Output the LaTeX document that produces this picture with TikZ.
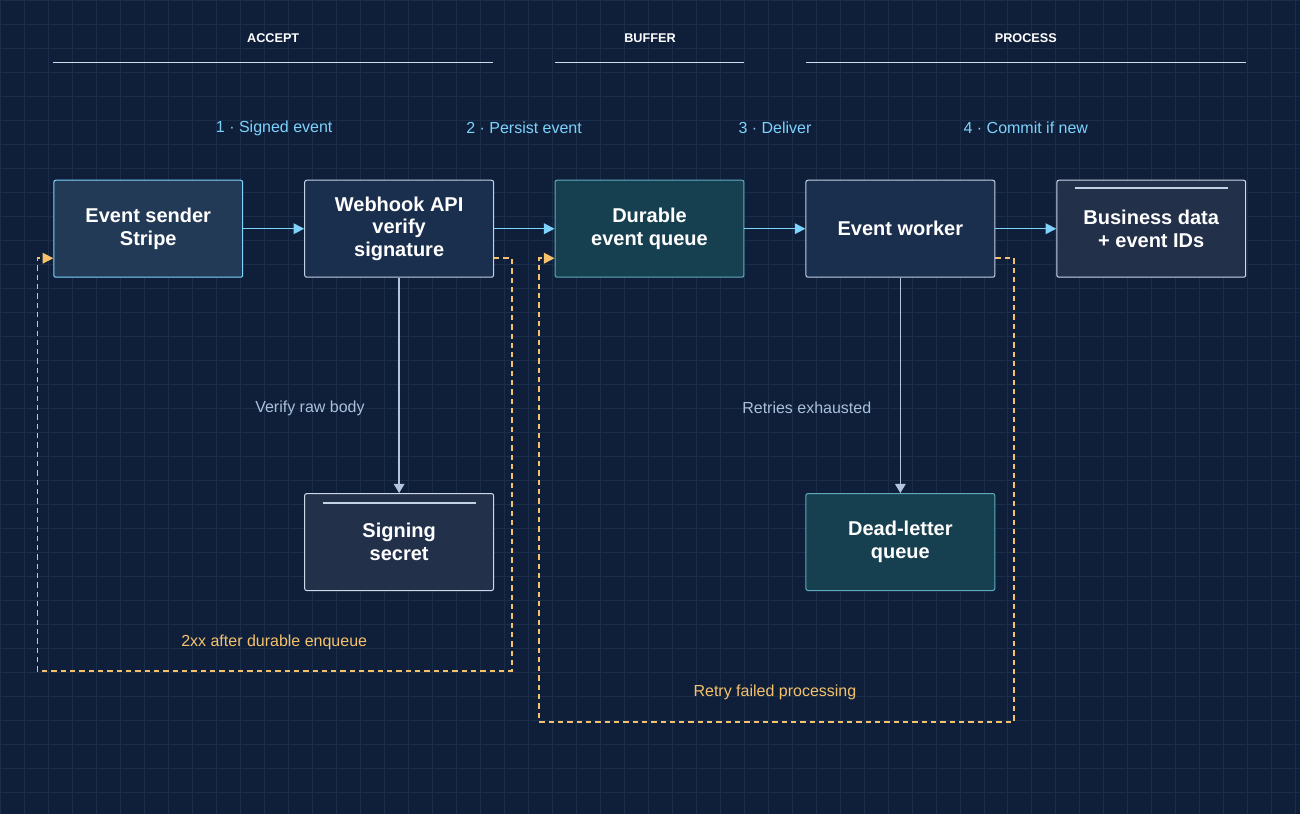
\documentclass[tikz,border=0pt]{standalone}
\usepackage{fontspec}
\setmainfont{Liberation Sans}
\usetikzlibrary{arrows.meta}
\definecolor{bgc}{HTML}{0F1F3A}
\definecolor{gridc}{HTML}{1A2E4C}
\definecolor{flowc}{HTML}{7DD3FC}
\definecolor{loopc}{HTML}{F5C26B}
\definecolor{subc}{HTML}{A9BFDA}
\definecolor{tealline}{RGB}{95,170,190}
\definecolor{tealfill}{RGB}{22,64,80}
\definecolor{srcfill}{RGB}{35,58,86}
\definecolor{svcfill}{RGB}{26,46,78}
\definecolor{storefill}{RGB}{35,48,74}
\tikzset{every picture/.style={line width=0.75pt}}
\tikzset{
  box/.style={draw=#1, rounded corners=1.5pt, minimum width=141.75pt, minimum height=72.75pt, align=center, text=white, font=\bfseries\fontsize{15}{17}\selectfont},
  flow/.style={draw=flowc, line width=1.1pt, -{Triangle[length=8pt,width=8pt]}},
  down/.style={draw=subc!90, line width=1.1pt, -{Triangle[length=7pt,width=8pt]}},
  loop/.style={draw=loopc, line width=1.1pt, dash pattern={on 4pt off 3pt}, -{Triangle[length=8pt,width=8pt]}},
  phase/.style={text=white, font=\bfseries\fontsize{9.5}{11}\selectfont},
  steplbl/.style={text=flowc, font=\fontsize{12}{14}\selectfont},
  note/.style={font=\fontsize{12}{14}\selectfont}
}
\begin{document}
\begin{tikzpicture}[x=0.75pt,y=0.75pt,yscale=-1,xscale=1]
% background and grid
\fill [bgc] (0,0) rectangle (1300,814);
\draw [gridc, line width=0.5pt, step=24] (0,0) grid (1300,814);
\useasboundingbox (0,0) rectangle (1300,814);

% phases
\node [phase] (accept) at (273,38) {ACCEPT};
\node [phase] (buffer) at (650,38) {BUFFER};
\node [phase] (process) at (1026,38) {PROCESS};
\draw [subc!55, line width=1pt] (53,62) -- (493,62);
\draw [subc!55, line width=1pt] (555,62) -- (744,62);
\draw [subc!55, line width=1pt] (806,62) -- (1246,62);

% steps
\node [steplbl] (s1) at (274,128) {1 · Signed event};
\node [steplbl] (s2) at (524,128) {2 · Persist event};
\node [steplbl] (s3) at (775,128) {3 · Deliver};
\node [steplbl] (s4) at (1026,128) {4 · Commit if new};

% boxes
\node [box=flowc, fill=srcfill] (sender) at (148,228.5) {Event sender\\Stripe};
\node [box=subc!70, fill=svcfill] (api) at (399,228.5) {Webhook API\\verify\\signature};
\node [box=tealline, fill=tealfill] (queue) at (649.5,228.5) {Durable\\event queue};
\node [box=subc!70, fill=svcfill] (worker) at (900.5,228.5) {Event worker};
\node [box=subc!60, fill=storefill] (store) at (1151.5,228.5) {Business data\\+ event IDs};
\node [box=subc!60, fill=storefill] (secret) at (399,542) {Signing\\secret};
\node [box=tealline, fill=tealfill] (dlq) at (900.5,542) {Dead-letter\\queue};
\draw [subc!70, line width=1.2pt] (1075,188) -- (1228,188);
\draw [subc!70, line width=1.2pt] (323,503) -- (476,503);

% main flow
\draw [flow] (sender) -- (api);
\draw [flow] (api) -- (queue);
\draw [flow] (queue) -- (worker);
\draw [flow] (worker) -- (store);

% side paths
\draw [down] (api) -- (secret) node [midway, note, text=subc, left=22pt, yshift=-17pt] {Verify raw body};
\draw [down] (worker) -- (dlq) node [midway, note, text=subc, left=18pt, yshift=-17pt] {Retries exhausted};

% retry loops
\draw [loop] (api.east |- 0,258) -- (512,258) -- (512,671) -- (37,671) -- (37,258) -- (sender.west |- 0,258);
\draw [loop] (worker.east |- 0,258) -- (1014,258) -- (1014,722) -- (539,722) -- (539,258) -- (queue.west |- 0,258);
\node [note, text=loopc] (ack) at (274,642) {2xx after durable enqueue};
\node [note, text=loopc] (retry) at (775,692) {Retry failed processing};
\end{tikzpicture}
\end{document}
